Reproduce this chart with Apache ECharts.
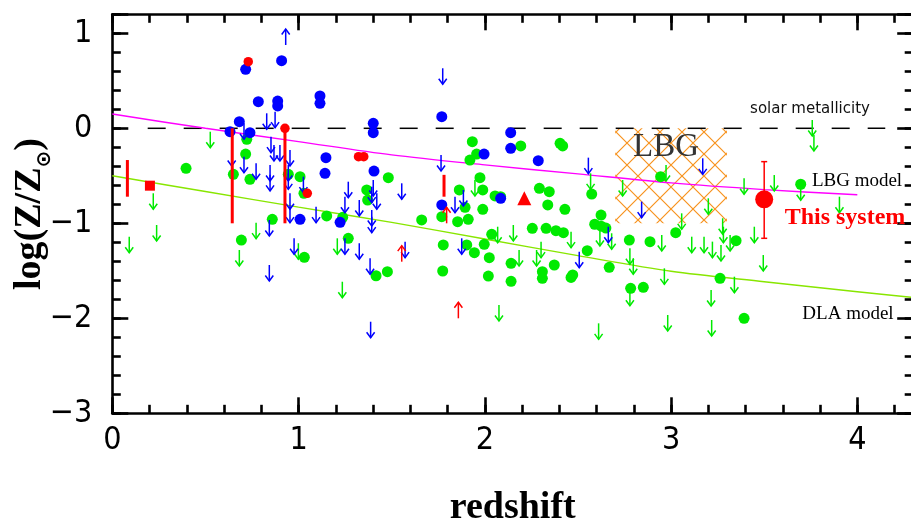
<!DOCTYPE html>
<html>
<head>
<meta charset="utf-8">
<script src="https://cdn.jsdelivr.net/npm/echarts@6/dist/echarts.min.js"></script>
<style>
  html, body { margin: 0; padding: 0; background: #fff; }
  #chart { width: 911px; height: 524px; }
</style>
</head>
<body>
<div id="chart"></div>
<script>
// ---- axis ticks ----
const xTicks = [0, 1, 2, 3, 4];
const yTicks = [-3, -2, -1, 0, 1];
const xRange = [0, 4.3];
const yRange = [-3, 1.2];

// ---- measurements: [redshift, log(Z/Zsun)] ----
const greenDots = [
  [0.396,-0.421],[0.722,-0.116],[0.716,-0.271],[0.650,-0.484],[0.739,-0.537],[0.945,-0.484],
  [1.008,-0.509],[1.029,-0.684],[1.366,-0.649],
  [0.693,-1.176],[0.859,-0.958],[1.031,-1.358],[1.151,-0.923],[1.237,-0.937],[1.267,-1.158],
  [1.371,-0.755],[1.416,-1.552],
  [1.863,-0.649],[1.989,-0.649],[1.894,-0.832],[1.989,-0.853],[1.661,-0.965],[1.769,-0.930],
  [1.854,-0.983],[1.911,-0.958],[2.085,-0.720],[2.055,-0.712],[2.293,-0.632],[2.346,-0.667],
  [2.338,-0.807],[2.430,-0.853],[2.037,-1.116],[2.255,-1.053],[2.329,-1.053],[2.382,-1.078],
  [2.422,-1.099],[1.777,-1.228],[1.903,-1.228],[1.944,-1.309],[1.997,-1.221],[2.024,-1.362],
  [2.141,-1.421],[2.373,-1.439],[2.309,-1.509],[2.309,-1.579],[2.472,-1.544],[2.463,-1.570],
  [1.774,-1.502],[2.019,-1.555],[2.141,-1.611],[2.550,-1.288],[2.668,-1.463],[2.624,-0.913],
  [2.590,-1.010],[2.625,-1.030],[2.650,-1.050],[2.776,-1.176],[2.783,-1.684],[2.851,-1.674],
  [2.887,-1.193],[2.574,-0.692],[1.477,-1.509],[1.482,-0.520],
  [1.933,-0.141],[2.193,-0.186],[2.404,-0.158],[2.418,-0.186],[1.956,-0.271],[1.920,-0.334],
  [1.974,-0.520],
  [2.944,-0.509],[3.696,-0.589],[3.025,-1.099],[3.349,-1.183],[3.263,-1.579],[3.392,-2.000]
];
const blueDots = [
  [0.909,0.712],[0.716,0.621],[0.784,0.280],[0.888,0.287],[0.888,0.235],[1.115,0.340],
  [1.115,0.263],[0.682,0.070],[0.632,-0.036],[0.739,-0.046],[1.401,0.053],[1.401,-0.046],
  [1.147,-0.309],[1.142,-0.474],[1.405,-0.450],[1.008,-0.958],[1.223,-0.990],[1.769,0.122],
  [2.139,-0.046],[2.139,-0.211],[1.996,-0.271],[2.287,-0.341],[2.085,-0.737],[1.769,-0.807]
];
const redDots = [[0.730,0.701],[0.927,0.000],[1.322,-0.299],[1.350,-0.299],[1.047,-0.684]];
const redSquare = [[0.202,-0.604]];
const redTriangle = [[2.212,-0.737]];
// [redshift, low, high]
const redRanges = [[0.081,-0.72,-0.334],[0.644,-1.0,0.0],[0.927,-1.0,0.0],[1.781,-0.72,-0.49]];
// [redshift, value, low, high]
const thisSystem = [[3.5,-0.747,-1.158,-0.351]];

// upper limits (arrow down from the value) and lower limits (arrow up)
const greenUpper = [
  [0.526,-0.036],[0.220,-0.684],[0.238,-1.018],[0.091,-1.141],[0.682,-1.281],[0.772,-0.993],
  [0.999,-1.210],[1.208,-1.158],[1.235,-1.615],
  [1.947,-0.544],[2.069,-1.036],[2.153,-1.018],[2.184,-1.281],[2.278,-1.281],[2.302,-1.193],
  [2.463,-1.088],[2.618,-1.070],[2.681,-1.105],[2.779,-1.263],[2.797,-1.368],[2.779,-1.700],
  [2.076,-1.860],[2.611,-2.053],[2.568,-0.474],[2.740,-0.544],
  [3.758,0.087],[3.767,-0.071],[2.973,-0.386],[3.392,-0.526],[3.554,-0.492],[3.696,-0.589],
  [3.904,-0.720],[3.200,-0.737],[3.057,-0.895],[2.950,-1.123],[3.111,-1.141],[3.177,-1.141],
  [3.222,-1.193],[3.268,-1.228],[3.277,-0.947],[3.281,-1.036],[3.317,-1.123],[3.447,-1.036],
  [3.495,-1.334],[2.964,-1.474],[3.340,-1.562],[3.215,-1.702],[2.982,-1.965],[3.218,-2.018]
];
const blueUpper = [
  [0.829,0.158],[0.874,0.175],[0.707,0.053],[0.641,-0.228],[0.707,-0.299],[0.852,-0.088],
  [0.868,-0.176],[0.900,-0.176],[0.954,-0.228],[0.772,-0.368],[0.847,-0.386],[0.847,-0.490],
  [0.945,-0.386],[0.945,-0.474],[1.026,-0.509],[1.267,-0.562],[1.401,-0.544],
  [0.843,-0.965],[0.843,-1.439],[0.954,-0.684],[0.954,-0.825],[0.976,-1.158],[1.094,-0.825],
  [1.249,-1.158],[1.249,-0.720],[1.326,-1.210],[1.326,-0.755],[1.393,-0.614],[1.393,-0.930],
  [1.420,-0.684],[1.384,-1.368],[1.387,-2.036],[1.393,-0.860],
  [1.554,-0.579],[1.572,-1.193],[1.840,-0.720],[1.885,-0.649],[1.876,-1.158],[2.507,-1.299],
  [2.663,-1.036],[2.842,-0.772],[1.774,0.632],[1.765,-0.281],[2.556,-0.309],[3.170,-0.316]
];
const blueLower = [[0.931,0.877]];
const redLower = [[1.554,-1.404],[1.795,-1.0],[1.858,-2.0]];

// model curves
const lbgModel = [[0,0.15],[0.5,0.0],[1,-0.14],[1.5,-0.28],[2,-0.385],[2.5,-0.48],[3,-0.575],[3.5,-0.645],[4,-0.70]];
const dlaModel = [[0,-0.50],[0.5,-0.665],[1,-0.83],[1.5,-0.99],[2,-1.165],[2.5,-1.34],[3,-1.505],[3.5,-1.615],[4,-1.72],[4.3,-1.78]];
const solarLine = [[0.19,0],[4.15,0]];
// LBG region: [zMin, zMax, low, high]
const lbgBox = [[2.7,3.3,-1.0,0.0]];

// ---- styling ----
const TICK_FONT = "'Liberation Sans Narrow', 'DejaVu Sans Condensed', 'Liberation Sans', sans-serif";
const SERIF = "'Liberation Serif', 'DejaVu Serif', serif";
const C_GREEN = '#00ea00', C_BLUE = '#0000ff', C_RED = '#ff0000';

const chart = echarts.init(document.getElementById('chart'), null, { renderer: 'canvas' });

const minus = v => String(v).replace('-', '\u2212');
function makeAxis(dim, pos, major, labels) {
  const range = dim === 'x' ? xRange : yRange;
  const ticks = dim === 'x' ? xTicks : yTicks;
  return {
    type: 'value', position: pos, min: range[0], max: range[1],
    interval: major ? ticks[1] - ticks[0] : 0.2,
    axisLine: { show: major, onZero: false, lineStyle: { color: '#000', width: 2.6 } },
    axisTick: { show: true, inside: true, length: major ? 16 : 8.5, lineStyle: { color: '#000', width: 2.6 } },
    splitLine: { show: false },
    axisLabel: {
      show: labels, color: '#000', fontSize: 32, fontFamily: TICK_FONT,
      margin: dim === 'x' ? 11 : 20,
      formatter: v => (ticks.indexOf(Math.round(v * 1000) / 1000) >= 0 ? minus(v) : '')
    }
  };
}

function arrows(data, color, dir, z) {
  return {
    type: 'custom', data, z, silent: true, clip: false,
    renderItem(params, api) {
      const p = api.coord([api.value(0), api.value(1)]);
      const tip = p[1] + dir * 16;
      const st = { stroke: color, fill: null, lineWidth: 1.5 };
      return { type: 'group', children: [
        { type: 'line', shape: { x1: p[0], y1: p[1], x2: p[0], y2: tip }, style: st },
        { type: 'polyline', shape: { points: [[p[0] - 4, tip - dir * 5.5], [p[0], tip], [p[0] + 4, tip - dir * 5.5]] }, style: st }
      ] };
    }
  };
}

// cross-hatch tile for the LBG region
function hatch() {
  const s = 22, c = document.createElement('canvas');
  c.width = s; c.height = s;
  const g = c.getContext('2d');
  g.strokeStyle = '#f7931e'; g.lineWidth = 1.2;
  g.beginPath();
  g.moveTo(-1, -1); g.lineTo(s + 1, s + 1);
  g.moveTo(s + 1, -1); g.lineTo(-1, s + 1);
  g.stroke();
  return c;
}
const hatchImg = hatch();

const option = {
  animation: false,
  backgroundColor: '#fff',
  grid: { left: 112.3, top: 14.3, width: 800.9, height: 399, containLabel: false, outerBoundsMode: 'none' },
  xAxis: [
    makeAxis('x', 'bottom', true, true), makeAxis('x', 'bottom', false, false),
    makeAxis('x', 'top', true, false), makeAxis('x', 'top', false, false)
  ],
  yAxis: [
    makeAxis('y', 'left', true, true), makeAxis('y', 'left', false, false),
    makeAxis('y', 'right', true, false), makeAxis('y', 'right', false, false)
  ],
  series: [
    {
      type: 'custom', data: lbgBox, z: 1, silent: true,
      renderItem(params, api) {
        const a = api.coord([api.value(0), api.value(3)]);
        const b = api.coord([api.value(1), api.value(2)]);
        return { type: 'rect', shape: { x: a[0], y: a[1], width: b[0] - a[0], height: b[1] - a[1] },
                 style: { fill: { image: hatchImg, repeat: 'repeat' }, stroke: null } };
      }
    },
    { type: 'line', data: solarLine, z: 2, showSymbol: false, silent: true,
      lineStyle: { color: '#000', width: 1.5, type: [18, 18] } },
    { type: 'line', data: lbgModel, z: 2, showSymbol: false, silent: true, smooth: 0.3,
      lineStyle: { color: '#ff00ff', width: 1.4 } },
    { type: 'line', data: dlaModel, z: 2, showSymbol: false, silent: true, smooth: 0.3,
      lineStyle: { color: '#88e600', width: 1.4 } },
    { type: 'scatter', data: greenDots, z: 3, symbolSize: 11, itemStyle: { color: C_GREEN, opacity: 1 } },
    arrows(greenUpper, C_GREEN, 1, 4),
    { type: 'scatter', data: blueDots, z: 5, symbolSize: 11, itemStyle: { color: C_BLUE, opacity: 1 } },
    arrows(blueUpper, C_BLUE, 1, 6),
    arrows(blueLower, C_BLUE, -1, 6),
    arrows(redLower, C_RED, -1, 7),
    {
      type: 'custom', data: redRanges, z: 7, silent: true,
      renderItem(params, api) {
        const a = api.coord([api.value(0), api.value(1)]);
        const b = api.coord([api.value(0), api.value(2)]);
        return { type: 'line', shape: { x1: a[0], y1: a[1], x2: b[0], y2: b[1] },
                 style: { stroke: C_RED, lineWidth: 3 } };
      }
    },
    { type: 'scatter', data: redDots, z: 8, symbolSize: 9.5, itemStyle: { color: C_RED, opacity: 1 } },
    { type: 'scatter', data: redSquare, z: 8, symbol: 'rect', symbolSize: 10, itemStyle: { color: C_RED, opacity: 1 } },
    { type: 'scatter', data: redTriangle, z: 8, symbol: 'triangle', symbolSize: 14, itemStyle: { color: C_RED, opacity: 1 } },
    {
      type: 'custom', data: thisSystem, z: 8, silent: true,
      renderItem(params, api) {
        const lo = api.coord([api.value(0), api.value(2)]);
        const hi = api.coord([api.value(0), api.value(3)]);
        const st = { stroke: C_RED, lineWidth: 1.5 };
        return { type: 'group', children: [
          { type: 'line', shape: { x1: lo[0], y1: lo[1], x2: hi[0], y2: hi[1] }, style: st },
          { type: 'line', shape: { x1: lo[0] - 3, y1: lo[1], x2: lo[0] + 3, y2: lo[1] }, style: st },
          { type: 'line', shape: { x1: hi[0] - 3, y1: hi[1], x2: hi[0] + 3, y2: hi[1] }, style: st }
        ] };
      }
    },
    { type: 'scatter', data: thisSystem.map(d => [d[0], d[1]]), z: 9, symbolSize: 18,
      itemStyle: { color: C_RED, opacity: 1 } }
  ],
  graphic: [
    { type: 'text', x: 512.7, y: 508, z: 100,
      style: { text: 'redshift', fill: '#000', font: "bold 38px " + SERIF, align: 'center', verticalAlign: 'middle' } },
    { type: 'text', x: 30, y: 214, rotation: Math.PI / 2, z: 100,
      style: { text: '{a|log(Z/Z}{s|\u2299}{a|)}', align: 'center', verticalAlign: 'middle',
        rich: {
          a: { fontFamily: SERIF, fontWeight: 'bold', fontSize: 38, lineHeight: 50, fill: '#000', verticalAlign: 'middle' },
          s: { fontFamily: "'DejaVu Sans', sans-serif", fontWeight: 'bold', fontSize: 20, fill: '#000', verticalAlign: 'bottom' }
        } } },
    { type: 'text', x: 810, y: 109, z: 100,
      style: { text: 'solar metallicity', fill: '#111', font: "15px 'DejaVu Sans', sans-serif", align: 'center', verticalAlign: 'middle' } },
    { type: 'text', x: 857, y: 181, z: 100,
      style: { text: 'LBG model', fill: '#000', font: "19px " + SERIF, align: 'center', verticalAlign: 'middle' } },
    { type: 'text', x: 848, y: 314, z: 100,
      style: { text: 'DLA model', fill: '#000', font: "19px " + SERIF, align: 'center', verticalAlign: 'middle' } },
    { type: 'text', x: 845, y: 218, z: 100,
      style: { text: 'This system', fill: '#ff0000', font: "bold 24px " + SERIF, align: 'center', verticalAlign: 'middle' } },
    { type: 'text', x: 666, y: 147, z: 100,
      style: { text: 'LBG', fill: '#333', font: "33px " + SERIF, align: 'center', verticalAlign: 'middle' } }
  ]
};
chart.setOption(option);
</script>
</body>
</html>
